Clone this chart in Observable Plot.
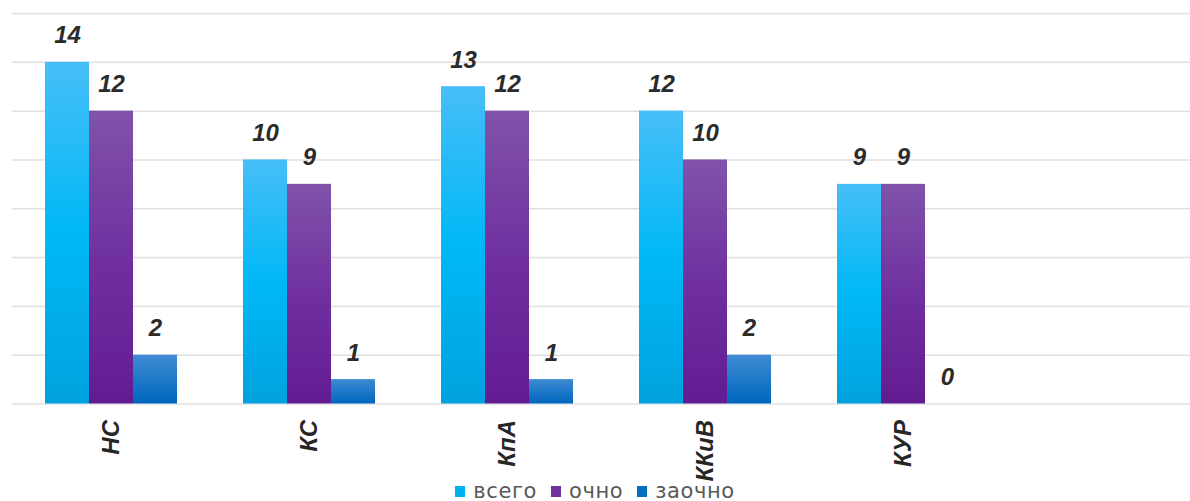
<!DOCTYPE html>
<html>
<head>
<meta charset="utf-8">
<script src="https://cdn.jsdelivr.net/npm/d3@7"></script>
<script src="https://cdn.jsdelivr.net/npm/@observablehq/plot@0.6"></script>
<style>
  html, body { margin: 0; padding: 0; background: #fff; overflow: hidden; }
  #chart svg { display: block; overflow: visible; }
  #legend { display: flex; justify-content: center; align-items: center; padding-top: 10px;
            height: 22px; font-family: "DejaVu Sans", sans-serif; font-size: 21px; color: #595959; letter-spacing: 0.6px; }
  #legend .item { display: flex; align-items: center; margin: 0 7px; }
  #legend .sw { width: 10px; height: 11px; margin-right: 8px; }
</style>
</head>
<body>
<div id="chart"></div>
<div id="legend"></div>
<script>
const categories = ["НС", "КС", "КпА", "ККиВ", "КУР"];
const series = ["всего", "очно", "заочно"];
const vsego = [14, 10, 13, 12, 9];
const ochno = [12, 9, 12, 10, 9];
const zaochno = [2, 1, 1, 2, 0];
const yTicks = [0, 2, 4, 6, 8, 10, 12, 14, 16];
const legendColors = ["#00b0f0", "#7030a0", "#0070c0"];
const gradientIds = ["gVsego", "gOchno", "gZaochno"];
const gradientStops = [
  [["0%", "#47bef8"], ["50%", "#00b8f6"], ["100%", "#00a2de"]],
  [["0%", "#8053aa"], ["50%", "#7030a0"], ["100%", "#621c92"]],
  [["0%", "#3f8bd1"], ["100%", "#0066c0"]]
];

const seriesValues = [vsego, ochno, zaochno];
const data = [];
categories.forEach((c, i) => {
  series.forEach((s, j) => data.push({cat: c, series: s, value: seriesValues[j][i]}));
});
const fxDomain = [...categories, " "];
const gridData = fxDomain.flatMap(f => yTicks.map(t => ({f, t})));

const labelFont = '"Liberation Sans", Arial, sans-serif';

const chart = Plot.plot({
  width: 1190,
  height: 470,
  marginTop: 13,
  marginBottom: 66.5,
  marginLeft: 10,
  marginRight: 0,
  style: {fontFamily: labelFont, background: "white"},
  fx: {domain: fxDomain, range: [10.3, 1200.7], paddingInner: 0, paddingOuter: 0, label: null},
  x: {domain: series, paddingInner: 0, paddingOuter: 0.743, axis: null},
  y: {domain: [0, 16], axis: null},
  color: {domain: series, range: gradientIds.map(id => `url(#${id})`)},
  marks: [
    Plot.ruleY(gridData, {fx: "f", y: "t", stroke: "#e0e0e0", strokeOpacity: 1, strokeWidth: 1.5}),
    Plot.barY(data, {fx: "cat", x: "series", y: "value", fill: "series"}),
    Plot.text(data, {fx: "cat", x: "series", y: "value", text: d => String(d.value),
      lineAnchor: "bottom", dy: -19, fontSize: 24, fontWeight: "bold", fontStyle: "italic", fill: "#2b2b2b"}),
    Plot.axisFx({anchor: "bottom", tickRotate: -90, tickSize: 0, tickPadding: 16, fontSize: 24,
      fontWeight: "bold", fontStyle: "italic", fill: "#262626", label: null})
  ]
});

// gradient definitions
const ns = "http://www.w3.org/2000/svg";
const defs = document.createElementNS(ns, "defs");
gradientIds.forEach((id, k) => {
  const g = document.createElementNS(ns, "linearGradient");
  g.setAttribute("id", id);
  g.setAttribute("x1", "0"); g.setAttribute("y1", "0");
  g.setAttribute("x2", "0"); g.setAttribute("y2", "1");
  gradientStops[k].forEach(([off, col]) => {
    const st = document.createElementNS(ns, "stop");
    st.setAttribute("offset", off);
    st.setAttribute("stop-color", col);
    g.appendChild(st);
  });
  defs.appendChild(g);
});
chart.insertBefore(defs, chart.firstChild);
document.getElementById("chart").appendChild(chart);

const legend = document.getElementById("legend");
series.forEach((s, i) => {
  const item = document.createElement("div");
  item.className = "item";
  const sw = document.createElement("div");
  sw.className = "sw";
  sw.style.background = legendColors[i];
  const t = document.createElement("span");
  t.textContent = s;
  item.appendChild(sw); item.appendChild(t);
  legend.appendChild(item);
});
</script>
</body>
</html>
